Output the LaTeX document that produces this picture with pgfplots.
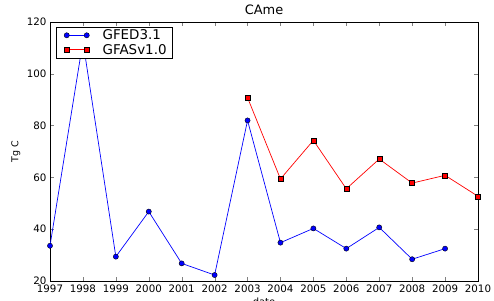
\documentclass[border=0pt]{standalone}
\usepackage{fontspec}
\setmainfont{DejaVu Sans}
\usepackage{pgfplots}
\pgfplotsset{compat=1.18}
\begin{document}
\begin{tikzpicture}
\useasboundingbox (-50bp,-20bp) rectangle (444bp,281bp);
\begin{axis}[
  at={(0,0)}, anchor=south west,
  scale only axis, width=428bp, height=259bp,
  xmin=1997, xmax=2010, ymin=20, ymax=120,
  xtick={1997,1998,...,2010}, ytick={20,40,...,120},
  /pgf/number format/assume math mode=true,
  xticklabel style={/pgf/number format/1000 sep={}, font=\fontsize{10.3}{12}\selectfont},
  yticklabel style={font=\fontsize{10.3}{12}\selectfont},
  tick align=inside, major tick length=4bp,
  title={CAme}, title style={font=\fontsize{13}{15}\selectfont, at={(axis description cs:0.5,1)}, anchor=south, yshift=-2.5bp},
  xlabel={date}, xlabel style={font=\fontsize{10}{12}\selectfont, at={(axis description cs:0.5,0)}, anchor=north, yshift=-13bp},
  ylabel={Tg C}, ylabel style={font=\fontsize{9.5}{11}\selectfont, at={(axis description cs:-0.08,0.5)}, anchor=center},
  legend style={at={(axis description cs:0.014,0.982)}, anchor=north west, font=\fontsize{13.5}{15}\selectfont, draw=black, line width=0.8pt, inner xsep=4bp, inner ysep=1bp, row sep=0bp, nodes={inner sep=1.5bp}},
  legend cell align=left,
  legend image code/.code={\path (-6bp,0bp) (34bp,0bp); \draw[#1] plot coordinates {(0bp,0bp) (20bp,0bp)};},
  axis line style={line width=0.8pt},
]
\addplot[blue, line width=0.7pt, mark=*, mark size=2.6bp, mark options={fill=blue, draw=black, line width=0.4pt}] coordinates {
(1997,33.6) (1998,112.5) (1999,29.4) (2000,46.8) (2001,26.8) (2002,22.3) (2003,82.0)
(2004,34.8) (2005,40.3) (2006,32.5) (2007,40.7) (2008,28.4) (2009,32.5)
};
\addlegendentry{GFED3.1}
\addplot[red, line width=0.7pt, mark=square*, mark size=2.5bp, mark options={fill=red, draw=black, line width=0.4pt}] coordinates {
(2003,90.8) (2004,59.4) (2005,74.3) (2006,55.6) (2007,67.1) (2008,57.8) (2009,60.8) (2010,52.7)
};
\addlegendentry{GFASv1.0}
\end{axis}
\end{tikzpicture}
\end{document}
